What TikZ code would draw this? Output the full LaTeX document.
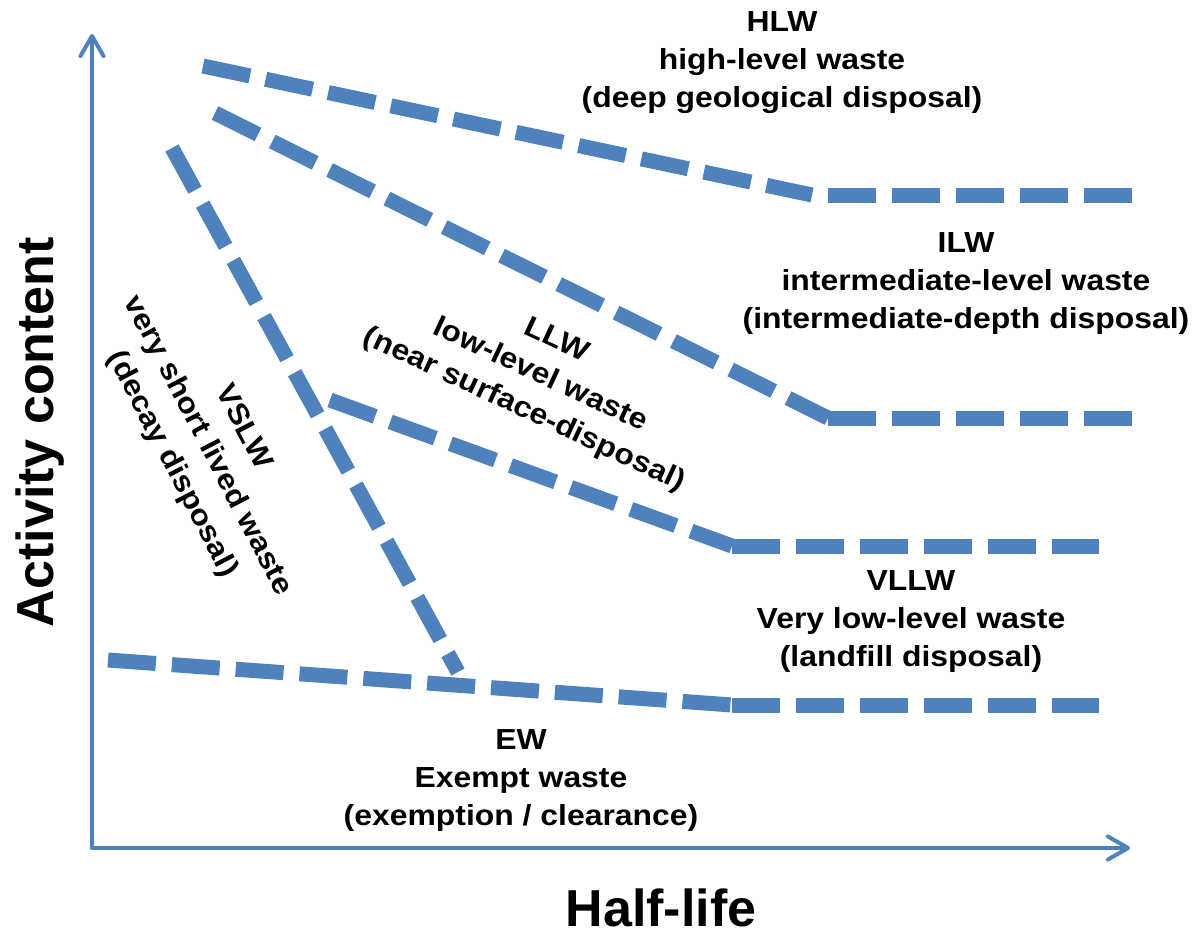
\documentclass[tikz,border=0pt]{standalone}
\usepackage{fontspec}
\setmainfont{Liberation Sans}
\newfontfamily\wastefont[FakeStretch=1.1]{Liberation Sans}
\usetikzlibrary{arrows.meta}
\definecolor{wasteblue}{HTML}{4F81BD}
\tikzset {
    x=1pt, y=-1pt,
    axisline/.style={wasteblue, line width=4pt, line cap=round,
        -{Straight Barb[length=20pt, width=23pt, round]}},
    band/.style={wasteblue, line width=15pt, dash pattern=on 48pt off 16pt},
    wastetext/.style={align=center, inner sep=0pt, font=\wastefont\fontsize{29}{38}\selectfont\bfseries},
    axistitle/.style={inner sep=0pt, font=\fontsize{52}{60}\selectfont\bfseries}
}

\begin{document}
\begin{tikzpicture}
    \useasboundingbox (0,0) rectangle (1194,932);

    \coordinate (origin) at (92,848);
    \coordinate (ytop) at (92,34);
    \coordinate (xend) at (1130,848);

    \coordinate (hlw0) at (203,66);
    \coordinate (hlw1) at (812,195);
    \coordinate (hlw2) at (1132,195);
    \coordinate (ilw0) at (215,113);
    \coordinate (ilw1) at (828,418);
    \coordinate (ilw2) at (1132,418);
    \coordinate (vslw0) at (172,148);
    \coordinate (vslw1) at (458,672);
    \coordinate (llw0) at (330,400);
    \coordinate (llw1) at (732,546);
    \coordinate (llw2) at (1099,546);
    \coordinate (ew0) at (108,660);
    \coordinate (ew1) at (732,705);
    \coordinate (ew2) at (1099,705);

    \draw[axisline] (origin) -- (ytop);
    \draw[axisline] (origin) -- (xend);

    \draw[band] (hlw0) -- (hlw1);
    \draw[band, dash phase=48pt] (hlw1) -- (hlw2);
    \draw[band] (ilw0) -- (ilw1);
    \draw[band] (ilw1) -- (ilw2);
    \draw[band] (vslw0) -- (vslw1);
    \draw[band] (llw0) -- (llw1);
    \draw[band] (llw1) -- (llw2);
    \draw[band] (ew0) -- (ew1);
    \draw[band] (ew1) -- (ew2);

    \node[wastetext] (hlw) at (782,63) {HLW\\high-level waste\\(deep geological disposal)};
    \node[wastetext] (ilw) at (966,284) {ILW\\intermediate-level waste\\(intermediate-depth disposal)};
    \node[wastetext, rotate=-25] (llw) at (540,376) {LLW\\low-level waste\\(near surface-disposal)};
    \node[wastetext, rotate=-62.5, font=\wastefont\fontsize{29}{40}\selectfont\bfseries] (vslw) at (207,446) {VSLW\\very short lived waste\\(decay disposal)};
    \node[wastetext] (vllw) at (911,622) {VLLW\\Very low-level waste\\(landfill disposal)};
    \node[wastetext] (ew) at (521,781) {EW\\Exempt waste\\(exemption / clearance)};

    \node[axistitle, rotate=90] (activity) at (40,432) {Activity content};
    \node[axistitle] (halflife) at (661,908) {Half-life};
\end{tikzpicture}
\end{document}
